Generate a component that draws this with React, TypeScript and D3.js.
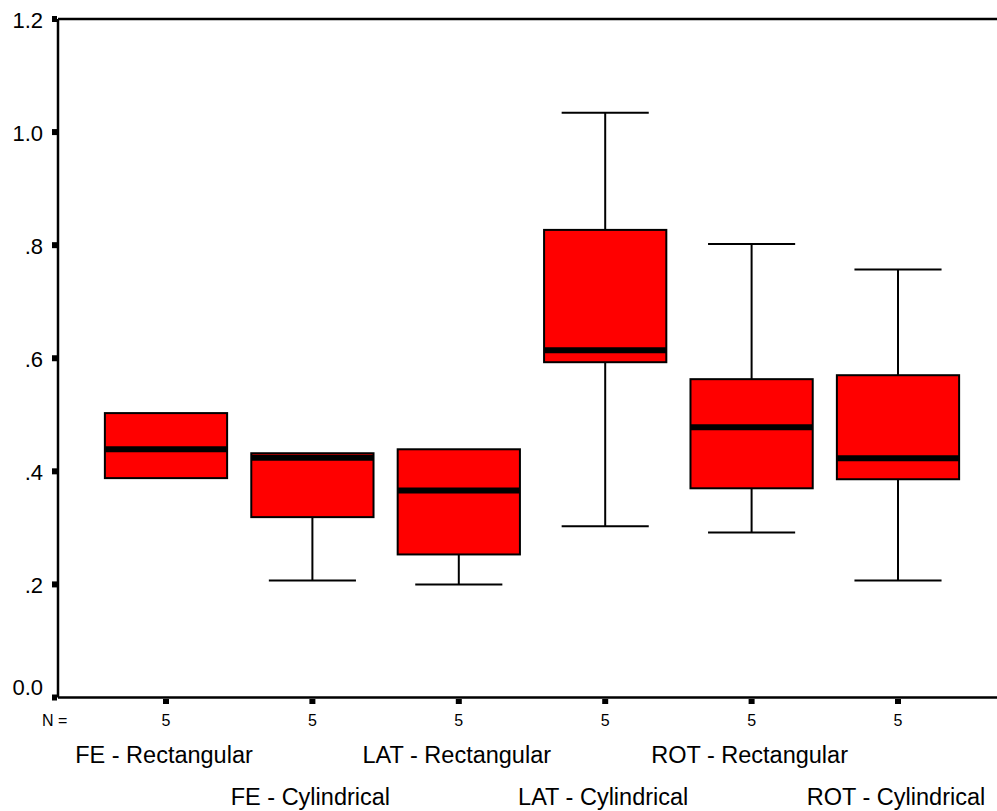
import React, { useRef, useEffect } from 'react';
import * as d3 from 'd3';

const categories = [
  'FE - Rectangular',
  'FE - Cylindrical',
  'LAT - Rectangular',
  'LAT - Cylindrical',
  'ROT - Rectangular',
  'ROT - Cylindrical',
];
const counts = [5, 5, 5, 5, 5, 5];
const whiskerLow = [0.388, 0.207, 0.2, 0.303, 0.292, 0.207];
const q1 = [0.388, 0.319, 0.253, 0.593, 0.37, 0.386];
const medians = [0.439, 0.424, 0.366, 0.614, 0.478, 0.423];
const q3 = [0.503, 0.432, 0.439, 0.827, 0.563, 0.57];
const whiskerHigh = [0.503, 0.432, 0.439, 1.034, 0.802, 0.757];
const yTicks = [0, 0.2, 0.4, 0.6, 0.8, 1.0, 1.2];

const FONT = '"Liberation Sans", Arial, sans-serif';

const BoxPlot = () => {
  const chart = useRef<SVGSVGElement>(null);

  useEffect(() => {
    const width = 997;
    const height = 811;
    const left = 58;
    const top = 19;
    const bottom = 697.5;

    const svg = d3.select(chart.current);
    svg.selectAll('*').remove();
    svg.attr('width', width).attr('height', height);

    const data = categories.map((c, i) => ({
      name: c,
      n: counts[i],
      lo: whiskerLow[i],
      q1: q1[i],
      med: medians[i],
      q3: q3[i],
      hi: whiskerHigh[i],
    }));

    const xScale = d3.scalePoint<string>()
      .domain(categories)
      .range([166, 898]);
    const step = xScale.step();
    const boxW = step * 0.835;
    const capW = step * 0.595;

    const yScale = d3.scaleLinear()
      .domain([0, 1.2])
      .range([bottom, top]);

    // frame lines
    svg.append('line')
      .attr('x1', left).attr('x2', width)
      .attr('y1', top).attr('y2', top)
      .attr('stroke', '#000').attr('stroke-width', 2.5);
    svg.append('line')
      .attr('x1', left).attr('x2', left)
      .attr('y1', top).attr('y2', bottom)
      .attr('stroke', '#000').attr('stroke-width', 2.5);
    svg.append('line')
      .attr('x1', left).attr('x2', width)
      .attr('y1', bottom).attr('y2', bottom)
      .attr('stroke', '#000').attr('stroke-width', 2.5);

    // y ticks
    const yFmt = (v: number) => v === 0 ? '0.0' : v < 1 ? d3.format('.1f')(v).replace(/^0/, '') : d3.format('.1f')(v);
    svg.selectAll('.ytick')
      .data(yTicks)
      .enter()
      .append('rect')
      .attr('x', left - 6)
      .attr('y', d => yScale(d) - 3)
      .attr('width', 5)
      .attr('height', 6)
      .attr('fill', '#000');
    svg.selectAll('.ylabel')
      .data(yTicks)
      .enter()
      .append('text')
      .attr('x', 43)
      .attr('y', d => d === 0 ? yScale(d) - 2.5 : yScale(d) + 9)
      .attr('text-anchor', 'end')
      .style('font-family', FONT)
      .style('font-size', '22px')
      .text(d => yFmt(d));

    // x ticks
    svg.selectAll('.xtick')
      .data(data)
      .enter()
      .append('rect')
      .attr('x', d => (xScale(d.name) as number) - 3)
      .attr('y', bottom + 1.5)
      .attr('width', 6)
      .attr('height', 5)
      .attr('fill', '#000');

    svg.append('text')
      .attr('x', 42)
      .attr('y', 726)
      .style('font-family', FONT)
      .style('font-size', '16px')
      .text('N =');

    svg.selectAll('.nlabel')
      .data(data)
      .enter()
      .append('text')
      .attr('x', d => xScale(d.name) as number)
      .attr('y', 726)
      .attr('text-anchor', 'middle')
      .style('font-family', FONT)
      .style('font-size', '16px')
      .text(d => d.n);

    svg.selectAll('.catlabel')
      .data(data)
      .enter()
      .append('text')
      .attr('x', d => (xScale(d.name) as number) - 2)
      .attr('y', (d, i) => i % 2 === 0 ? 763 : 805)
      .attr('text-anchor', 'middle')
      .style('font-family', FONT)
      .style('font-size', '23.5px')
      .text(d => d.name);

    // boxes
    const g = svg.selectAll('.box')
      .data(data)
      .enter()
      .append('g');

    g.filter(d => d.hi > d.q3).append('line')
      .attr('x1', d => xScale(d.name) as number)
      .attr('x2', d => xScale(d.name) as number)
      .attr('y1', d => yScale(d.hi))
      .attr('y2', d => yScale(d.q3))
      .attr('stroke', '#000').attr('stroke-width', 2);
    g.filter(d => d.hi > d.q3).append('line')
      .attr('x1', d => (xScale(d.name) as number) - capW / 2)
      .attr('x2', d => (xScale(d.name) as number) + capW / 2)
      .attr('y1', d => yScale(d.hi))
      .attr('y2', d => yScale(d.hi))
      .attr('stroke', '#000').attr('stroke-width', 2);
    g.filter(d => d.lo < d.q1).append('line')
      .attr('x1', d => xScale(d.name) as number)
      .attr('x2', d => xScale(d.name) as number)
      .attr('y1', d => yScale(d.lo))
      .attr('y2', d => yScale(d.q1))
      .attr('stroke', '#000').attr('stroke-width', 2);
    g.filter(d => d.lo < d.q1).append('line')
      .attr('x1', d => (xScale(d.name) as number) - capW / 2)
      .attr('x2', d => (xScale(d.name) as number) + capW / 2)
      .attr('y1', d => yScale(d.lo))
      .attr('y2', d => yScale(d.lo))
      .attr('stroke', '#000').attr('stroke-width', 2);

    g.append('rect')
      .attr('x', d => (xScale(d.name) as number) - boxW / 2)
      .attr('y', d => yScale(d.q3))
      .attr('width', boxW)
      .attr('height', d => yScale(d.q1) - yScale(d.q3))
      .attr('fill', '#ff0000')
      .attr('stroke', '#000')
      .attr('stroke-width', 2);

    g.append('line')
      .attr('x1', d => (xScale(d.name) as number) - boxW / 2)
      .attr('x2', d => (xScale(d.name) as number) + boxW / 2)
      .attr('y1', d => yScale(d.med))
      .attr('y2', d => yScale(d.med))
      .attr('stroke', '#000').attr('stroke-width', 6);
  }, []);

  return <svg ref={chart} style={{ position: 'absolute', left: 0, top: 0 }}></svg>;
};

export default function App() {
  return <BoxPlot />;
}
